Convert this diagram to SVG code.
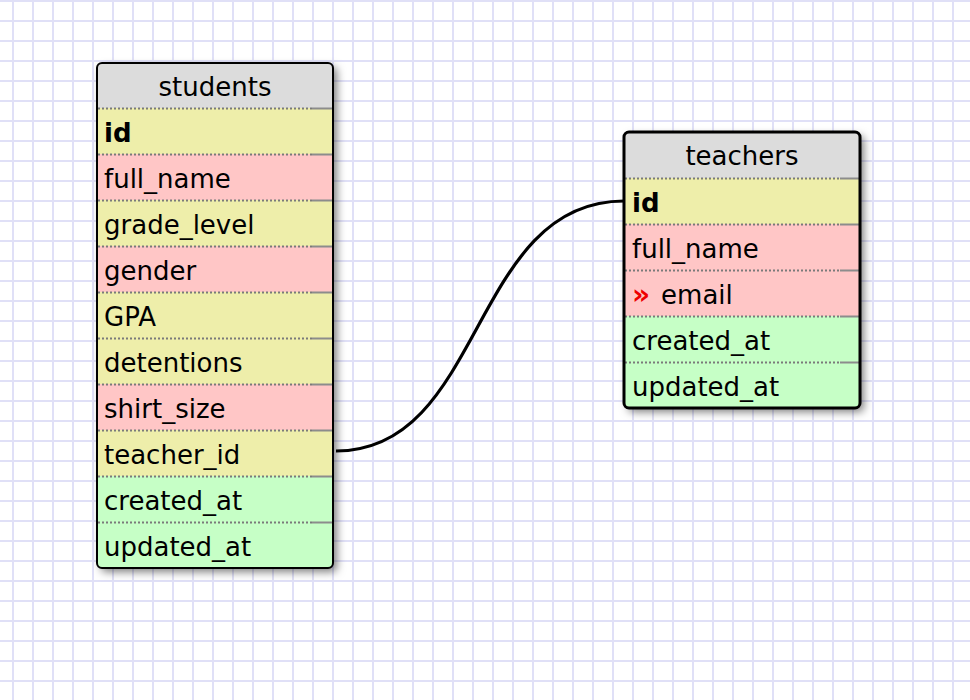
<svg xmlns="http://www.w3.org/2000/svg" width="970" height="700" viewBox="0 0 970 700">
<defs>
<pattern id="grid" patternUnits="userSpaceOnUse" width="20" height="20">
<rect width="20" height="20" fill="#ffffff"/>
<rect x="12" y="0" width="2" height="20" fill="#e0e0f7"/>
<rect x="0" y="0" width="20" height="2" fill="#e0e0f7"/>
</pattern>
<filter id="shadow" x="-10%" y="-10%" width="130%" height="130%">
<feDropShadow dx="4" dy="4" stdDeviation="4" flood-color="#000" flood-opacity="0.5"/>
</filter>
<clipPath id="clipS"><rect x="97" y="63" width="236" height="505" rx="5"/></clipPath>
<clipPath id="clipT"><rect x="624" y="132" width="236" height="276" rx="5"/></clipPath>
</defs>
<style>
text{font-family:"DejaVu Sans","Verdana",sans-serif;font-size:26px;fill:#000}
.hdr{fill:#dcdcdc}
.y{fill:#eeeeaa}
.p{fill:#ffc6c6}
.g{fill:#c6ffc6}
.dot{stroke:#7a7a7a;stroke-width:2;stroke-dasharray:2 2;fill:none}
.sol{stroke:#8c8c8c;stroke-width:2;fill:none}
.title{text-anchor:middle}
.pk{font-weight:bold}
.conn{fill:none;stroke:#000;stroke-width:3.2}
</style>
<rect width="970" height="700" fill="url(#grid)"/>

<g id="connectors">
<path class="conn" d="M336,451 C485,451 470,201 624,201"/>
</g>

<g id="students">
<rect x="97" y="63" width="236" height="505" rx="5" fill="#fff" filter="url(#shadow)"/>
<g clip-path="url(#clipS)">
<rect class="hdr" x="97" y="63" width="236" height="45"/>
<rect class="y" x="97" y="108" width="236" height="46"/>
<rect class="p" x="97" y="154" width="236" height="46"/>
<rect class="y" x="97" y="200" width="236" height="46"/>
<rect class="p" x="97" y="246" width="236" height="46"/>
<rect class="y" x="97" y="292" width="236" height="46"/>
<rect class="y" x="97" y="338" width="236" height="46"/>
<rect class="p" x="97" y="384" width="236" height="46"/>
<rect class="y" x="97" y="430" width="236" height="46"/>
<rect class="g" x="97" y="476" width="236" height="46"/>
<rect class="g" x="97" y="522" width="236" height="46"/>
</g>
<path class="dot" d="M98,108.5H312M98,154.5H312M98,200.5H312M98,246.5H312M98,292.5H312M98,338.5H312M98,384.5H312M98,430.5H312M98,476.5H312M98,522.5H312"/>
<path class="sol" d="M312,108.5H332M312,154.5H332M312,200.5H332M312,246.5H332M312,292.5H332M312,338.5H332M312,384.5H332M312,430.5H332M312,476.5H332M312,522.5H332"/>
<rect x="97" y="63" width="236" height="505" rx="5" fill="none" stroke="#000" stroke-width="2"/>
<text class="title" x="215" y="96">students</text>
<text class="pk" x="104" y="142">id</text>
<text x="104" y="188">full_name</text>
<text x="104" y="234">grade_level</text>
<text x="104" y="280">gender</text>
<text x="104" y="326">GPA</text>
<text x="104" y="372">detentions</text>
<text x="104" y="418">shirt_size</text>
<text x="104" y="464">teacher_id</text>
<text x="104" y="510">created_at</text>
<text x="104" y="556">updated_at</text>
</g>

<g id="teachers">
<rect x="624" y="132" width="236" height="276" rx="5" fill="#fff" filter="url(#shadow)"/>
<g clip-path="url(#clipT)">
<rect class="hdr" x="624" y="132" width="236" height="46"/>
<rect class="y" x="624" y="178" width="236" height="46"/>
<rect class="p" x="624" y="224" width="236" height="46"/>
<rect class="p" x="624" y="270" width="236" height="46"/>
<rect class="g" x="624" y="316" width="236" height="46"/>
<rect class="g" x="624" y="362" width="236" height="46"/>
</g>
<path class="dot" d="M625,178.5H840M625,224.5H840M625,270.5H840M625,316.5H840M625,362.5H840"/>
<path class="sol" d="M840,178.5H859M840,224.5H859M840,270.5H859M840,316.5H859M840,362.5H859"/>
<rect x="624" y="132" width="236" height="276" rx="5" fill="none" stroke="#000" stroke-width="3"/>
<text class="title" x="742" y="165">teachers</text>
<text class="pk" x="632" y="212">id</text>
<text x="632" y="258">full_name</text>
<text x="632" y="304"><tspan font-weight="bold" fill="#ee0000" font-size="28">»</tspan><tspan dx="11">email</tspan></text>
<text x="632" y="350">created_at</text>
<text x="632" y="396">updated_at</text>
</g>
</svg>
